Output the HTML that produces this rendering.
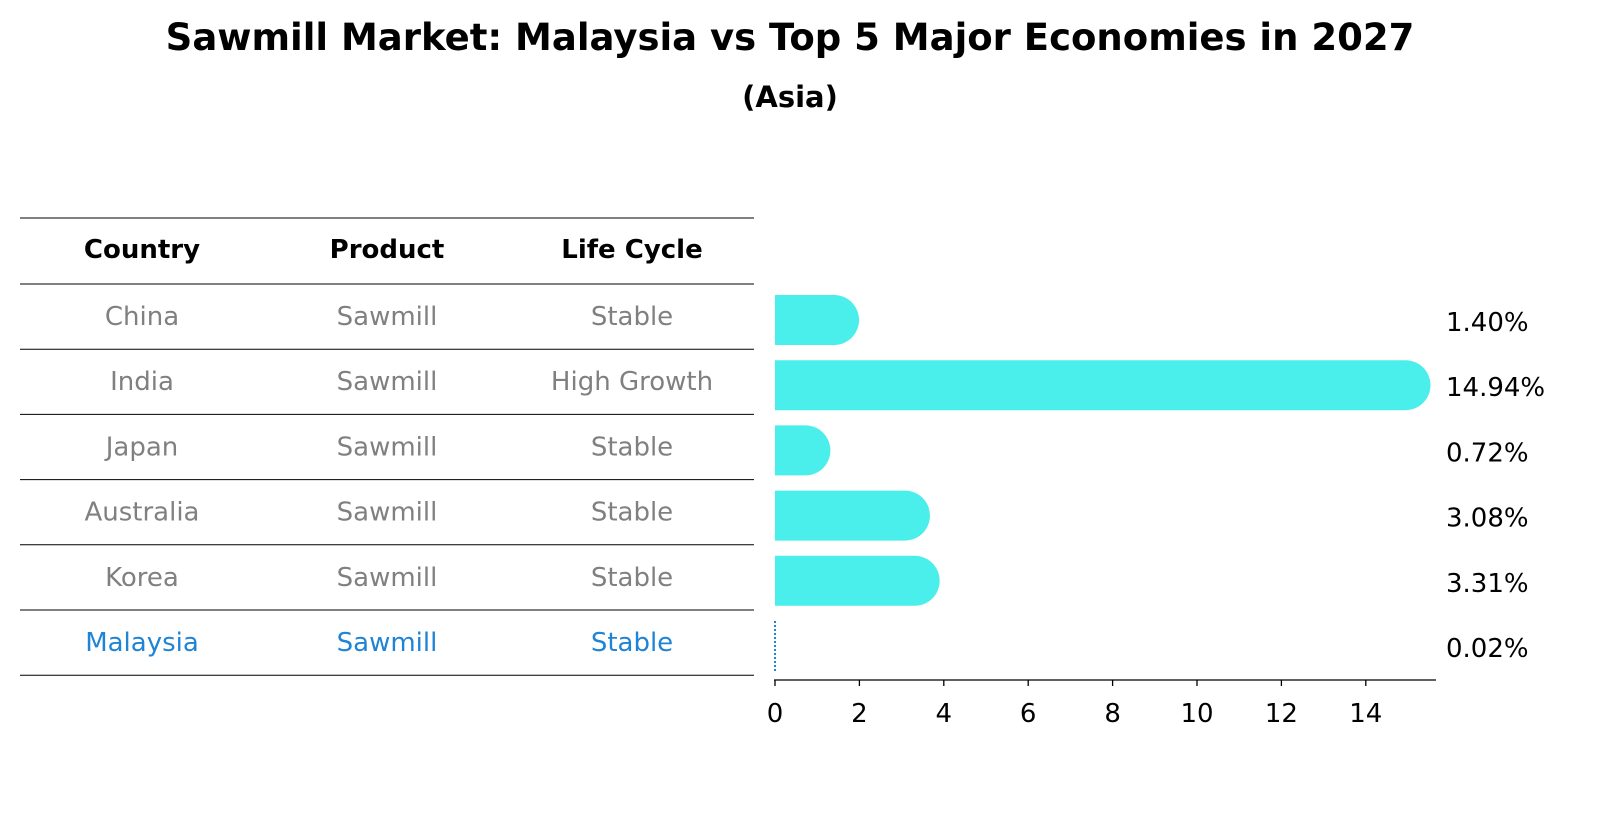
<!DOCTYPE html>
<html><head><meta charset="utf-8"><style>
body{margin:0;background:#fff;font-family:"DejaVu Sans","Liberation Sans",sans-serif;}
svg text{font-family:"DejaVu Sans","Liberation Sans",sans-serif;}
</style></head><body>
<svg width="1604" height="823" xmlns="http://www.w3.org/2000/svg">
<text x="790" y="50" text-anchor="middle" font-size="37" font-weight="bold">Sawmill Market: Malaysia vs Top 5 Major Economies in 2027</text>
<text x="790" y="107" text-anchor="middle" font-size="29" font-weight="bold">(Asia)</text>
<g id="table"></g>
<g id="bars"></g>
</svg>
<script>
const countries=["China","India","Japan","Australia","Korea","Malaysia"];
const products=["Sawmill","Sawmill","Sawmill","Sawmill","Sawmill","Sawmill"];
const lifeCycles=["Stable","High Growth","Stable","Stable","Stable","Stable"];
const values=[1.40,14.94,0.72,3.08,3.31,0.02];
const ticks=[0,2,4,6,8,10,12,14];
const NS="http://www.w3.org/2000/svg";
function mk(t,a,p){const e=document.createElementNS(NS,t);for(const k in a)e.setAttribute(k,a[k]);p.appendChild(e);return e;}
const tbl=document.getElementById('table');
const bars=document.getElementById('bars');
const rowTop=284,rowH=65.2,headerTop=218;
const colX=[142,387,632];
let l=mk('line',{x1:20,x2:754,y1:headerTop,y2:headerTop,stroke:'#000','stroke-width':1},tbl);

["Country","Product","Life Cycle"].forEach((h,i)=>{const t=mk('text',{x:colX[i],y:258,'text-anchor':'middle','font-size':26,'font-weight':'bold'},tbl);t.textContent=h;
});
const xs=v=>775+v*42.2;
const cap=25;
countries.forEach((c,i)=>{
 const y0=rowTop+i*rowH;
 const ln=mk('line',{x1:20,x2:754,y1:y0,y2:y0,stroke:'#000','stroke-width':1},tbl);
 
 const col=c==="Malaysia"?'#1f84d6':'#808080';
 [c,products[i],lifeCycles[i]].forEach((s,j)=>{const t=mk('text',{x:colX[j],y:y0+41,'text-anchor':'middle','font-size':26,fill:col},tbl);t.textContent=s;
 });
 const by=y0+11,bh=50,w=xs(values[i])-775;
 if(values[i]<0.1){
  const d=mk('line',{x1:775,x2:775,y1:by,y2:by+bh,stroke:'#1f84d6','stroke-width':2,'stroke-dasharray':'2,2'},bars);
  
 } else {
  const p=mk('path',{d:`M775 ${by} H${775+w} A${cap} ${cap} 0 0 1 ${775+w} ${by+bh} H775 Z`,fill:'#4aeeea'},bars);
  
 }
 const t=mk('text',{x:1446,y:by+bh/2+11,'font-size':26},bars);t.textContent=values[i].toFixed(2)+'%';
 
});
const yb=rowTop+6*rowH;
l=mk('line',{x1:20,x2:754,y1:yb,y2:yb,stroke:'#000','stroke-width':1},tbl);

const ax=mk('line',{x1:774,x2:1436,y1:680,y2:680,stroke:'#000','stroke-width':1.3},bars);

ticks.forEach(v=>{const x=xs(v);
 const tk=mk('line',{x1:x,x2:x,y1:680,y2:686,stroke:'#000','stroke-width':1.3},bars);
 
 const t=mk('text',{x:x,y:722,'text-anchor':'middle','font-size':26},bars);t.textContent=v;
 });
</script>
</body></html>
